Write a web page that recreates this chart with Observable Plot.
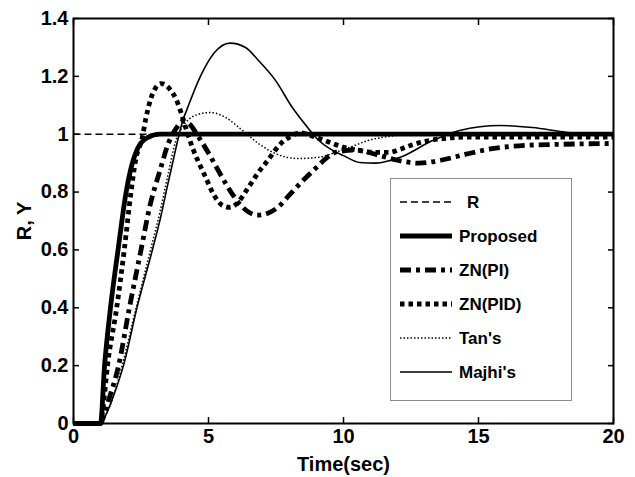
<!DOCTYPE html>
<html>
<head>
<meta charset="utf-8">
<script src="https://cdn.jsdelivr.net/npm/d3@7"></script>
<script src="https://cdn.jsdelivr.net/npm/@observablehq/plot@0.6"></script>
<style>
  html, body { margin: 0; padding: 0; background: #fff; }
  #wrap { position: relative; width: 635px; height: 477px; }
  #legend { position: absolute; left: 0; top: 0; pointer-events: none; }
</style>
</head>
<body>
<div id="wrap"></div>
<script>
// ---- data (time in sec, response) ----
const xTicks = [0, 5, 10, 15, 20];
const xTickLabels = ["0", "5", "10", "15", "20"];
const yTicks = [0, 0.2, 0.4, 0.6, 0.8, 1, 1.2, 1.4];
const yTickLabels = ["0", "0.2", "0.4", "0.6", "0.8", "1", "1.2", "1.4"];

const seriesNames = ["R", "Proposed", "ZN(PI)", "ZN(PID)", "Tan's", "Majhi's"];

const rData = [[0, 1], [20, 1]];
const proposedData = [[0,0],[1,0],[1.15,0.2],[1.37,0.4],[1.65,0.6],[1.95,0.8],[2.11,0.875],[2.37,0.95],[2.74,0.988],[3.2,1],[20,1]];
const znPIData = [[0,0],[1,0],[1.1,0.02],[1.3,0.08],[1.67,0.2],[2.07,0.4],[2.5,0.6],[2.8,0.74],[3.22,0.88],[3.52,0.97],[3.8,1.02],[4.05,1.045],[4.3,1.035],[4.6,0.995],[5.0,0.935],[5.3,0.885],[5.7,0.82],[6.1,0.765],[6.5,0.73],[6.8,0.72],[7.2,0.727],[7.6,0.75],[8.0,0.79],[8.5,0.84],[9.0,0.885],[9.4,0.92],[9.8,0.94],[10.5,0.945],[11.2,0.93],[12,0.91],[12.8,0.9],[13.6,0.91],[14.5,0.93],[15.5,0.95],[16.5,0.96],[18,0.965],[20,0.968]];
const znPIDData = [[0,0],[1,0],[1.1,0.06],[1.26,0.2],[1.6,0.4],[1.88,0.6],[2.13,0.8],[2.3,0.91],[2.55,0.99],[2.67,1.05],[2.93,1.14],[3.25,1.175],[3.6,1.152],[3.85,1.11],[4.0,1.07],[4.2,1.01],[4.4,0.955],[4.6,0.91],[4.85,0.86],[5.2,0.79],[5.5,0.755],[5.8,0.747],[6.1,0.765],[6.4,0.805],[6.85,0.868],[7.2,0.91],[7.65,0.965],[8.0,0.99],[8.4,1.005],[8.8,0.995],[9.4,0.975],[10,0.955],[10.5,0.945],[11.2,0.937],[11.7,0.937],[12.1,0.948],[12.5,0.962],[13,0.975],[13.7,0.985],[14.5,0.99],[20,0.99]];
const tanData = [[0,0],[1,0],[1.2,0.03],[1.5,0.1],[1.8,0.2],[2.32,0.4],[2.88,0.61],[3.2,0.73],[3.5,0.86],[3.78,0.975],[4.0,1.02],[4.2,1.045],[4.6,1.068],[5.07,1.075],[5.63,1.058],[6.26,1.013],[6.85,0.968],[7.48,0.933],[8.33,0.916],[9.07,0.92],[9.7,0.937],[10.3,0.957],[10.9,0.978],[11.5,0.99],[12.1,0.997],[13,1],[20,1]];
const majhiData = [[0,0],[1,0],[1.2,0.03],[1.5,0.1],[1.85,0.2],[2.35,0.4],[2.95,0.61],[3.22,0.71],[3.5,0.83],[3.67,0.9],[3.85,0.975],[4.04,1.045],[4.2,1.085],[4.7,1.2],[5.2,1.28],[5.8,1.315],[6.37,1.3],[6.85,1.255],[7.48,1.186],[8.1,1.093],[8.7,1.02],[9.07,0.98],[9.6,0.944],[10.0,0.926],[10.6,0.902],[11.2,0.9],[12.1,0.92],[13.3,0.978],[14.3,1.013],[15.8,1.03],[17,1.023],[18.3,1.006],[19.2,1.0],[20,1.0]];

// ---- styles ----
const seriesData = [rData, proposedData, znPIData, znPIDData, tanData, majhiData];
const seriesStyle = [
  {w: 1.5, dash: "7,4"},
  {w: 4.8, dash: null},
  {w: 4.8, dash: "11,5,4,5"},
  {w: 4.8, dash: "4.5,4"},
  {w: 1.5, dash: "1.5,2"},
  {w: 1.6, dash: null}
];
const drawOrder = [0, 5, 4, 2, 3, 1];

const font = "'Liberation Sans', Arial, Helvetica, sans-serif";

const lineMarks = drawOrder.map(i => Plot.line(seriesData[i], {
  x: d => d[0], y: d => d[1],
  stroke: "black", strokeWidth: seriesStyle[i].w,
  strokeDasharray: seriesStyle[i].dash || undefined,
  strokeLinecap: "butt", strokeLinejoin: "round",
  curve: "monotone-x"
}));

const chart = Plot.plot({
  width: 635, height: 477,
  marginLeft: 73, marginRight: 22, marginTop: 18, marginBottom: 54,
  style: {fontFamily: font, fontSize: "20px", fontWeight: "bold", background: "white", color: "black", overflow: "visible"},
  x: {domain: [0, 20]},
  y: {domain: [0, 1.4]},
  marks: [
    ...lineMarks,
    Plot.frame({stroke: "black", strokeWidth: 2}),
    Plot.axisX(xTicks, {anchor: "bottom", tickSize: 0, tickPadding: 5,
      tickFormat: d => xTickLabels[xTicks.indexOf(d)],
      label: "Time(sec)", labelAnchor: "center", labelArrow: "none", labelOffset: 47}),
    Plot.axisY(yTicks, {anchor: "left", tickSize: 0, tickPadding: 5,
      tickFormat: d => yTickLabels[yTicks.indexOf(d)],
      label: "R, Y", labelAnchor: "center", labelArrow: "none", labelOffset: 57}),
    Plot.axisX(xTicks, {anchor: "bottom", tickSize: -6, tickFormat: () => "", label: null, strokeWidth: 1.5}),
    Plot.axisX(xTicks, {anchor: "top", tickSize: -6, tickFormat: () => "", label: null, strokeWidth: 1.5}),
    Plot.axisY(yTicks, {anchor: "left", tickSize: -6, tickFormat: () => "", label: null, strokeWidth: 1.5}),
    Plot.axisY(yTicks, {anchor: "right", tickSize: -6, tickFormat: () => "", label: null, strokeWidth: 1.5})
  ]
});
document.getElementById("wrap").appendChild(chart);

// ---- legend overlay ----
const lg = d3.select("#wrap").append("svg").attr("id", "legend")
  .attr("width", 635).attr("height", 477);
lg.append("rect").attr("x", 390.5).attr("y", 178.5).attr("width", 181).attr("height", 222)
  .attr("fill", "white").attr("stroke", "#8c8c8c").attr("stroke-width", 1);
seriesNames.forEach((name, i) => {
  const y = 202 + i * 34;
  lg.append("line").attr("x1", 400).attr("x2", 452).attr("y1", y).attr("y2", y)
    .attr("stroke", "black").attr("stroke-width", seriesStyle[i].w)
    .attr("stroke-dasharray", seriesStyle[i].dash)
    .attr("stroke-linecap", "butt");
  lg.append("text").attr("x", i === 0 ? 467 : 459).attr("y", y).attr("dy", "0.35em")
    .attr("font-family", font).attr("font-weight", "bold").attr("font-size", 17)
    .text(name);
});
</script>
</body>
</html>
